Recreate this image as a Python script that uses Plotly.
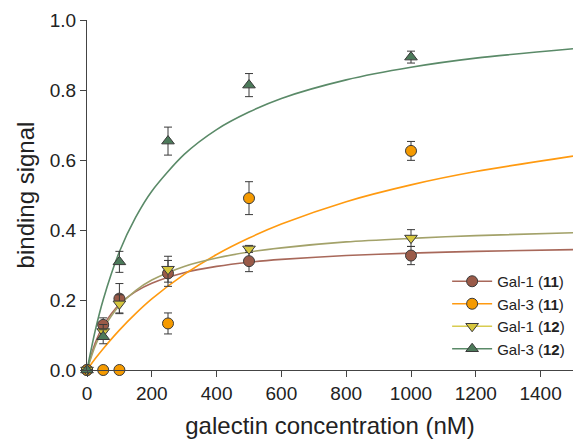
import plotly.graph_objects as go

# ---- data ----
conc = [0, 50, 100, 250, 500, 1000]

gal1_11 = [0.0, 0.129, 0.204, 0.276, 0.311, 0.327]
gal1_11_err = [0.0, 0.02, 0.043, 0.037, 0.03, 0.026]

gal3_11 = [0.0, 0.0, 0.0, 0.133, 0.491, 0.626]
gal3_11_err = [0.0, 0.0, 0.0, 0.03, 0.047, 0.027]

gal1_12 = [0.0, 0.11, 0.189, 0.288, 0.346, 0.377]
gal1_12_err = [0.0, 0.02, 0.026, 0.037, 0.01, 0.024]

gal3_12 = [0.0, 0.095, 0.309, 0.654, 0.814, 0.894]
gal3_12_err = [0.0, 0.02, 0.03, 0.04, 0.033, 0.017]

# fitted curves
fit_x = [0, 25, 50, 100, 150, 200, 300, 400, 500, 600, 800, 1000, 1200, 1500]
fit_gal1_11 = [0, 0.076, 0.126, 0.188, 0.224, 0.248, 0.278, 0.296, 0.308, 0.316, 0.327, 0.334, 0.339, 0.344]
fit_gal3_11 = [0, 0.032, 0.061, 0.114, 0.161, 0.203, 0.273, 0.330, 0.377, 0.417, 0.481, 0.529, 0.567, 0.611]
fit_gal1_12 = [0, 0.068, 0.117, 0.184, 0.227, 0.257, 0.296, 0.320, 0.337, 0.349, 0.366, 0.376, 0.384, 0.392]
fit_gal3_12 = [0, 0.111, 0.201, 0.338, 0.436, 0.511, 0.616, 0.687, 0.737, 0.776, 0.829, 0.865, 0.891, 0.918]

x_ticks = [0, 200, 400, 600, 800, 1000, 1200, 1400]
y_ticks = [0.0, 0.2, 0.4, 0.6, 0.8, 1.0]

series = [
    ("Gal-1 (<b>11</b>)", gal1_11, gal1_11_err, fit_gal1_11, "circle", "#9A5A48", "#A8685A", "#A8685A"),
    ("Gal-3 (<b>11</b>)", gal3_11, gal3_11_err, fit_gal3_11, "circle", "#F59A00", "#FF9A10", "#FF9A10"),
    ("Gal-1 (<b>12</b>)", gal1_12, gal1_12_err, fit_gal1_12, "triangle-down", "#D6C63E", "#A3A26A", "#D8CC50"),
    ("Gal-3 (<b>12</b>)", gal3_12, gal3_12_err, fit_gal3_12, "triangle-up", "#4C7A5A", "#5A8A68", "#5A8A68"),
]

FONT = "Liberation Sans, Arial, sans-serif"
fig = go.Figure()

# curves first
for name, y, err, fy, sym, fill, curve_col, leg_col in series:
    fig.add_trace(go.Scatter(
        x=fit_x, y=fy, mode="lines", line=dict(color=curve_col, width=1.6, shape="spline", smoothing=0.8),
        showlegend=False, hoverinfo="skip", cliponaxis=True))

# data points
for name, y, err, fy, sym, fill, curve_col, leg_col in series:
    fig.add_trace(go.Scatter(
        x=conc, y=y, mode="markers",
        marker=dict(symbol=sym, size=11, color=fill, line=dict(color="#3a3a3a", width=1)),
        error_y=dict(type="data", array=err, visible=True, color="#3a3a3a", thickness=1, width=4),
        showlegend=False, cliponaxis=False))

# legend entries
for name, y, err, fy, sym, fill, curve_col, leg_col in series:
    fig.add_trace(go.Scatter(
        x=[None], y=[None], mode="lines+markers", name=name,
        line=dict(color=leg_col, width=1.6),
        marker=dict(symbol=sym, size=11, color=fill, line=dict(color="#3a3a3a", width=1))))

fig.update_layout(
    width=573, height=445,
    margin=dict(l=87, r=0, t=20, b=75),
    paper_bgcolor="white", plot_bgcolor="white",
    font=dict(family=FONT, color="#222222"),
    showlegend=True,
    legend=dict(x=0.741, xanchor="left", y=0.30, yanchor="top",
                font=dict(size=15, family=FONT, color="#222222"),
                bgcolor="rgba(0,0,0,0)", tracegroupgap=0, itemwidth=40),
    xaxis=dict(range=[0, 1500], tickvals=x_ticks, ticktext=[str(v) for v in x_ticks],
               showgrid=False, zeroline=False, showline=True, linecolor="#444", linewidth=1,
               ticks="outside", ticklen=6, tickcolor="#444", automargin=False,
               tickfont=dict(size=19, family=FONT, color="#222"),
               title=dict(text="galectin concentration (nM)", font=dict(size=24, family=FONT, color="#222"), standoff=14)),
    yaxis=dict(range=[0, 1.0], tickvals=y_ticks, ticktext=["%.1f" % v for v in y_ticks],
               showgrid=False, zeroline=False, showline=True, linecolor="#444", linewidth=1,
               ticks="outside", ticklen=6, tickcolor="#444", automargin=False,
               tickfont=dict(size=19, family=FONT, color="#222"),
               title=dict(text="binding signal", font=dict(size=24, family=FONT, color="#222"), standoff=8)),
)

fig.write_html("out.html", config={"displayModeBar": False},
               post_script="document.body.style.margin='0';document.body.style.overflow='hidden';")
